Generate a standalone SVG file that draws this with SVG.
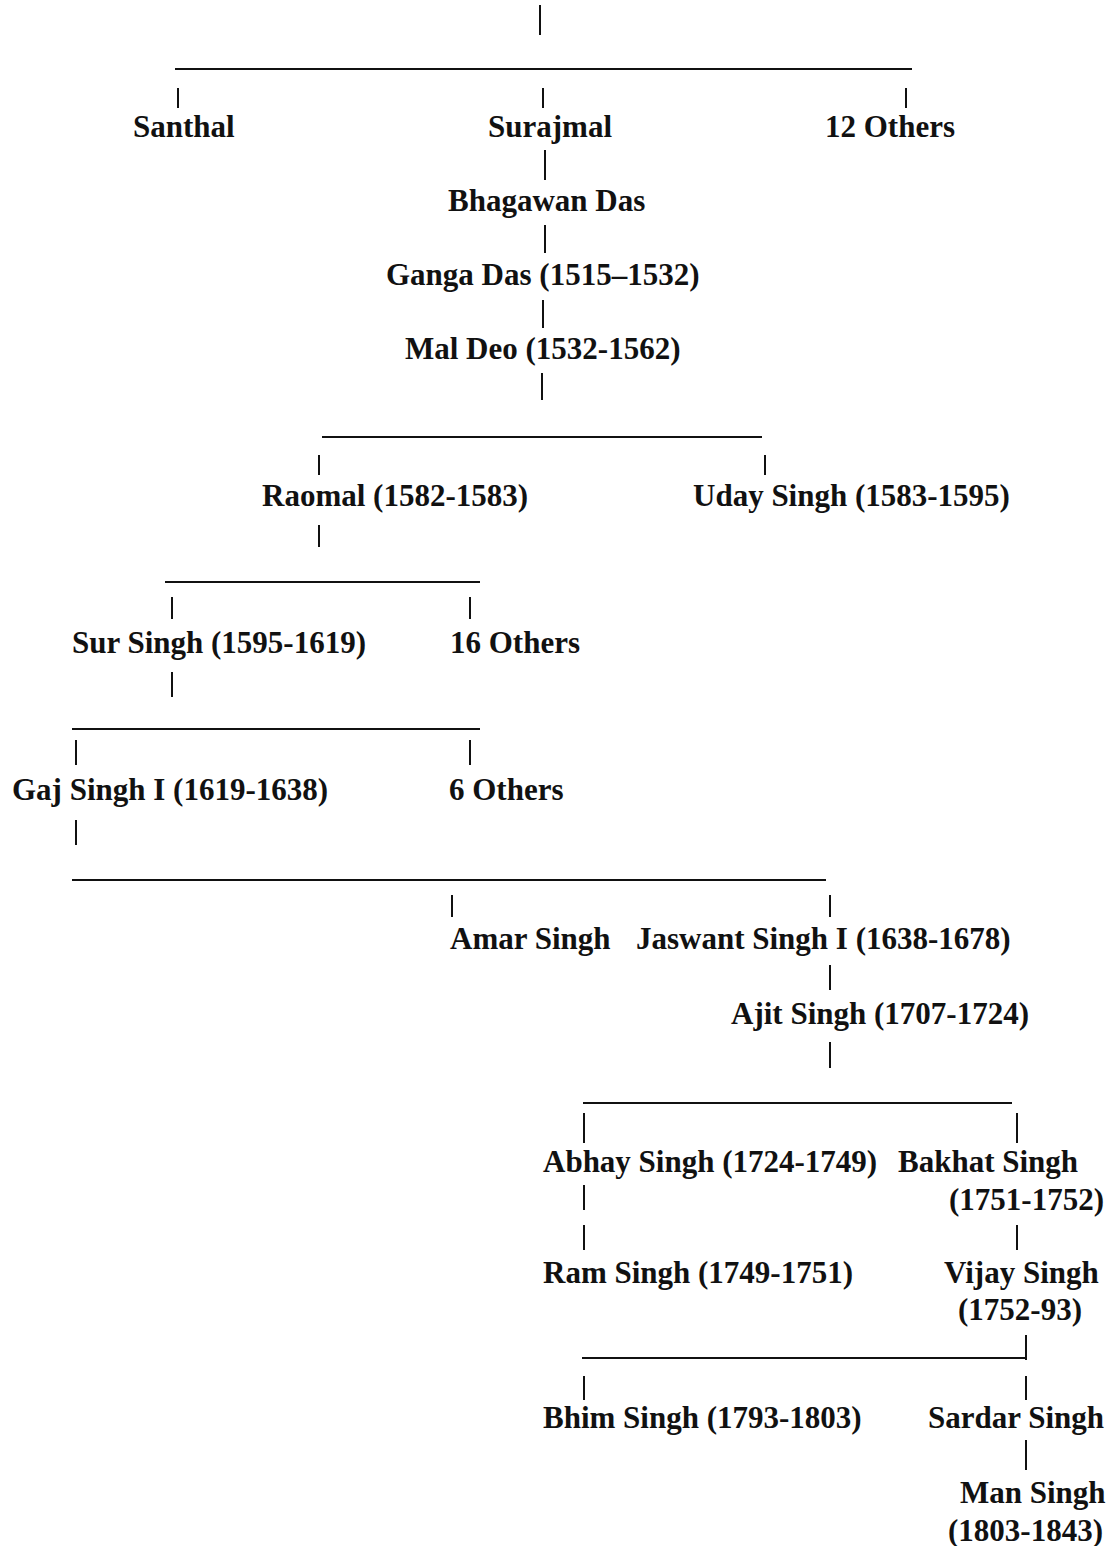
<svg xmlns="http://www.w3.org/2000/svg" width="1111" height="1546" viewBox="0 0 1111 1546">
<style>
text { font-family: "Liberation Serif", "Times New Roman", serif; font-weight: bold; font-size: 31px; fill: #111; }
.c line { stroke: #111; stroke-width: 2; }
</style>
<rect width="1111" height="1546" fill="#fff"/>
<g id="connectors" class="c">
<line x1="540" y1="5" x2="540" y2="35"/>
<line x1="175" y1="69" x2="912" y2="69"/>
<line x1="178" y1="88" x2="178" y2="108"/>
<line x1="543" y1="88" x2="543" y2="108"/>
<line x1="906" y1="88" x2="906" y2="108"/>
<line x1="545" y1="150" x2="545" y2="180"/>
<line x1="545" y1="225" x2="545" y2="253"/>
<line x1="543" y1="300" x2="543" y2="328"/>
<line x1="542" y1="373" x2="542" y2="400"/>
<line x1="322" y1="437" x2="762" y2="437"/>
<line x1="319" y1="455" x2="319" y2="475"/>
<line x1="765" y1="455" x2="765" y2="475"/>
<line x1="319" y1="525" x2="319" y2="547"/>
<line x1="165" y1="582" x2="480" y2="582"/>
<line x1="172" y1="597" x2="172" y2="619"/>
<line x1="470" y1="597" x2="470" y2="619"/>
<line x1="172" y1="672" x2="172" y2="697"/>
<line x1="72" y1="729" x2="480" y2="729"/>
<line x1="76" y1="740" x2="76" y2="765"/>
<line x1="470" y1="740" x2="470" y2="765"/>
<line x1="76" y1="820" x2="76" y2="845"/>
<line x1="72" y1="880" x2="826" y2="880"/>
<line x1="452" y1="895" x2="452" y2="917"/>
<line x1="830" y1="895" x2="830" y2="917"/>
<line x1="830" y1="965" x2="830" y2="990"/>
<line x1="830" y1="1042" x2="830" y2="1068"/>
<line x1="583" y1="1103" x2="1012" y2="1103"/>
<line x1="584" y1="1113" x2="584" y2="1143"/>
<line x1="1017" y1="1113" x2="1017" y2="1143"/>
<line x1="584" y1="1185" x2="584" y2="1210"/>
<line x1="584" y1="1225" x2="584" y2="1250"/>
<line x1="1017" y1="1225" x2="1017" y2="1250"/>
<line x1="1026" y1="1335" x2="1026" y2="1360"/>
<line x1="582" y1="1358" x2="1026" y2="1358"/>
<line x1="584" y1="1376" x2="584" y2="1400"/>
<line x1="1026" y1="1376" x2="1026" y2="1400"/>
<line x1="1026" y1="1440" x2="1026" y2="1470"/>
</g>
<g id="santhal"><text x="133" y="137">Santhal</text></g>
<g id="surajmal"><text x="488" y="137">Surajmal</text></g>
<g id="others12"><text x="825" y="137">12 Others</text></g>
<g id="bhagawan"><text x="448" y="211">Bhagawan Das</text></g>
<g id="ganga"><text x="386" y="285">Ganga Das (1515–1532)</text></g>
<g id="maldeo"><text x="405" y="359">Mal Deo (1532-1562)</text></g>
<g id="raomal"><text x="262" y="506">Raomal (1582-1583)</text></g>
<g id="uday"><text x="693" y="506">Uday Singh (1583-1595)</text></g>
<g id="sur"><text x="72" y="653">Sur Singh (1595-1619)</text></g>
<g id="others16"><text x="450" y="653">16 Others</text></g>
<g id="gaj"><text x="12" y="800">Gaj Singh I (1619-1638)</text></g>
<g id="others6"><text x="449" y="800">6 Others</text></g>
<g id="amar"><text x="450" y="949">Amar Singh</text></g>
<g id="jaswant"><text x="636" y="949">Jaswant Singh I (1638-1678)</text></g>
<g id="ajit"><text x="731" y="1024">Ajit Singh (1707-1724)</text></g>
<g id="abhay"><text x="543" y="1172">Abhay Singh (1724-1749)</text></g>
<g id="bakhat"><text x="898" y="1172">Bakhat Singh</text><text x="949" y="1210">(1751-1752)</text></g>
<g id="ram"><text x="543" y="1283">Ram Singh (1749-1751)</text></g>
<g id="vijay"><text x="944" y="1283">Vijay Singh</text><text x="958" y="1320">(1752-93)</text></g>
<g id="bhim"><text x="543" y="1428">Bhim Singh (1793-1803)</text></g>
<g id="sardar"><text x="928" y="1428">Sardar Singh</text></g>
<g id="man"><text x="960" y="1503">Man Singh</text><text x="948" y="1541">(1803-1843)</text></g>
</svg>
